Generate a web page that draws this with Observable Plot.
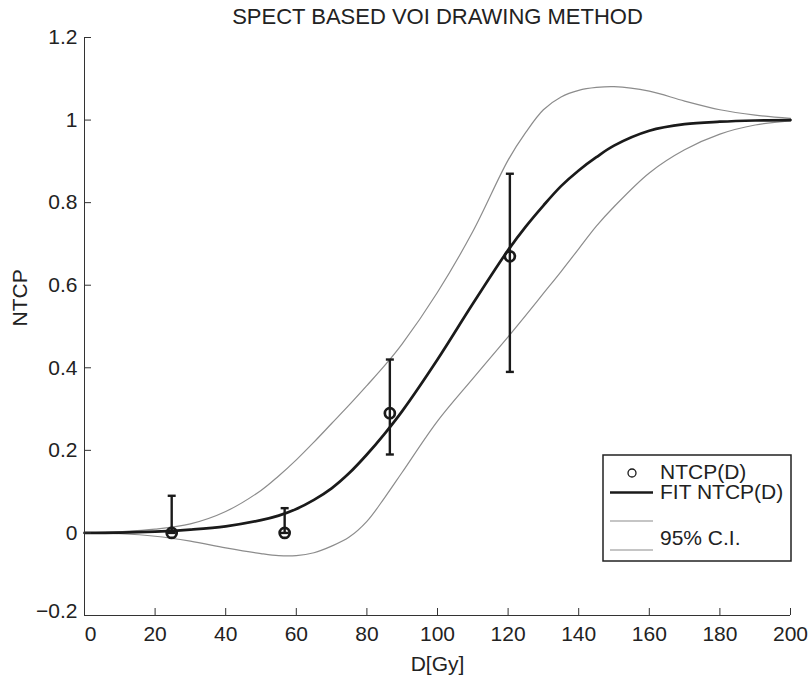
<!DOCTYPE html>
<html><head><meta charset="utf-8">
<script src="https://cdn.jsdelivr.net/npm/d3@7"></script>
<script src="https://cdn.jsdelivr.net/npm/@observablehq/plot@0.6"></script>
<style>body{margin:0;background:#fff} svg{display:block}</style>
</head><body><div id="chart"></div>
<script>
// ---- data ----
const titleText = "SPECT BASED VOI DRAWING METHOD";
const xLabel = "D[Gy]";
const yLabel = "NTCP";
const xTicks = [0, 20, 40, 60, 80, 100, 120, 140, 160, 180, 200];
const yTicks = [-0.2, 0, 0.2, 0.4, 0.6, 0.8, 1, 1.2];

const dose    = [0, 10, 20, 30, 40, 50, 55, 60, 65, 70, 75, 80, 85, 90, 100, 110, 120, 125, 130, 135, 140, 145, 150, 160, 170, 180, 190, 200];
const fitNtcp = [0, 0.0005, 0.003, 0.008, 0.016, 0.031, 0.042, 0.058, 0.08, 0.108, 0.145, 0.19, 0.24, 0.295, 0.42, 0.555, 0.685, 0.742, 0.793, 0.84, 0.878, 0.91, 0.938, 0.974, 0.99, 0.996, 0.999, 1.0];
const ciUpper = [0, 0.003, 0.009, 0.022, 0.052, 0.103, 0.138, 0.177, 0.22, 0.265, 0.31, 0.357, 0.405, 0.458, 0.583, 0.73, 0.903, 0.97, 1.025, 1.056, 1.072, 1.079, 1.081, 1.07, 1.046, 1.025, 1.012, 1.004];
const ciLower = [0, -0.002, -0.008, -0.02, -0.036, -0.05, -0.055, -0.055, -0.048, -0.032, -0.01, 0.028, 0.085, 0.147, 0.271, 0.374, 0.475, 0.527, 0.58, 0.633, 0.688, 0.743, 0.79, 0.872, 0.928, 0.966, 0.988, 0.998];

const pointDose = [24.7, 56.7, 86.5, 120.5];
const pointNtcp = [0, 0, 0.29, 0.67];
const errLow    = [0, 0, 0.19, 0.39];
const errHigh   = [0.09, 0.06, 0.42, 0.87];

const legendLabels = ["NTCP(D)", "FIT NTCP(D)", "95% C.I."];

// ---- build tables ----
const curves = dose.map((d, i) => ({d, fit: fitNtcp[i], up: ciUpper[i], lo: ciLower[i]}));
const pts = pointDose.map((d, i) => ({d, v: pointNtcp[i], lo: errLow[i], hi: errHigh[i]}));

const FONT = "'Liberation Sans', Arial, Helvetica, sans-serif";
const INK = "#1a1a1a";
const GRAY = "#8c8c8c";
const W = 812, H = 679, ML = 84, MR = 22, MT = 37, MB = 64;
const FW = W - ML - MR, FH = H - MT - MB;
const capSymbol = {draw(ctx) { ctx.moveTo(-4, 0); ctx.lineTo(4, 0); }};
const fmt = d3.format("");

const plot = Plot.plot({
  width: W, height: H,
  marginLeft: ML, marginRight: MR, marginTop: MT, marginBottom: MB,
  style: {fontFamily: FONT, fontSize: "21px", color: "#222", background: "#fff"},
  x: {domain: [0, 200]},
  y: {domain: [-0.2, 1.2]},
  marks: [
    Plot.lineY(curves, {x: "d", y: "up", stroke: GRAY, strokeWidth: 1.2, curve: "catmull-rom"}),
    Plot.lineY(curves, {x: "d", y: "lo", stroke: GRAY, strokeWidth: 1.2, curve: "catmull-rom"}),
    Plot.lineY(curves, {x: "d", y: "fit", stroke: INK, strokeWidth: 2.7, curve: "catmull-rom"}),
    Plot.ruleX(pts, {x: "d", y1: "lo", y2: "hi", stroke: INK, strokeWidth: 2.4}),
    Plot.dot(pts, {x: "d", y: "hi", symbol: capSymbol, stroke: INK, strokeWidth: 2.4, r: 4}),
    Plot.dot(pts, {x: "d", y: "lo", symbol: capSymbol, stroke: INK, strokeWidth: 2.4, r: 4}),
    Plot.dot(pts, {x: "d", y: "v", r: 5, stroke: INK, strokeWidth: 2.7, fill: "none"}),
    // spines
    Plot.ruleX([xTicks[0]], {stroke: "#333", strokeWidth: 1}),
    Plot.ruleY([yTicks[0]], {stroke: "#333", strokeWidth: 1}),
    // inward ticks
    Plot.ruleX(xTicks, {x: d => d, insetTop: FH - 7, stroke: "#333"}),
    Plot.ruleY(yTicks, {y: d => d, insetRight: FW - 7, stroke: "#333"}),
    // tick labels
    Plot.axisX(xTicks.slice(1), {tickSize: 0, tickPadding: 11, label: null, tickFormat: fmt}),
    Plot.axisX(xTicks.slice(0, 1), {tickSize: 0, tickPadding: 11, label: null, tickFormat: fmt, dx: 6}),
    Plot.axisY(yTicks.slice(1), {tickSize: 0, tickPadding: 7, label: null, tickFormat: fmt}),
    Plot.axisY(yTicks.slice(0, 1), {tickSize: 0, tickPadding: 7, label: null, tickFormat: fmt, dy: -4}),
    // title and axis labels
    Plot.text([titleText], {text: d => d, frameAnchor: "top", dy: -14, lineAnchor: "bottom", fill: "#222", fontSize: 22}),
    Plot.text([xLabel], {text: d => d, frameAnchor: "bottom", dy: 55, lineAnchor: "bottom", fill: "#222"}),
    Plot.text([yLabel], {text: d => d, frameAnchor: "left", dx: -64, rotate: -90, lineAnchor: "middle", fill: "#222"})
  ]
});

// ---- legend ----
const svg = d3.select(plot);
const lg = svg.append("g").attr("font-family", FONT).attr("font-size", 21)
  .attr("fill", "#222").attr("text-anchor", "start");
lg.append("rect").attr("x", 603).attr("y", 455).attr("width", 188).attr("height", 106)
  .attr("fill", "#fff").attr("stroke", "#222").attr("stroke-width", 1.5);
lg.append("circle").attr("cx", 632).attr("cy", 473).attr("r", 4)
  .attr("fill", "none").attr("stroke", INK).attr("stroke-width", 1.3);
lg.append("text").attr("x", 660).attr("y", 479).text(legendLabels[0]);
lg.append("line").attr("x1", 610).attr("x2", 653).attr("y1", 492.5).attr("y2", 492.5)
  .attr("stroke", INK).attr("stroke-width", 2.7);
lg.append("text").attr("x", 660).attr("y", 499).text(legendLabels[1]);
lg.append("line").attr("x1", 610).attr("x2", 653).attr("y1", 521).attr("y2", 521)
  .attr("stroke", GRAY).attr("stroke-width", 1.2);
lg.append("line").attr("x1", 610).attr("x2", 653).attr("y1", 550).attr("y2", 550)
  .attr("stroke", GRAY).attr("stroke-width", 1.2);
lg.append("text").attr("x", 660).attr("y", 545).text(legendLabels[2]);

document.getElementById("chart").appendChild(plot);
</script>
</body></html>
